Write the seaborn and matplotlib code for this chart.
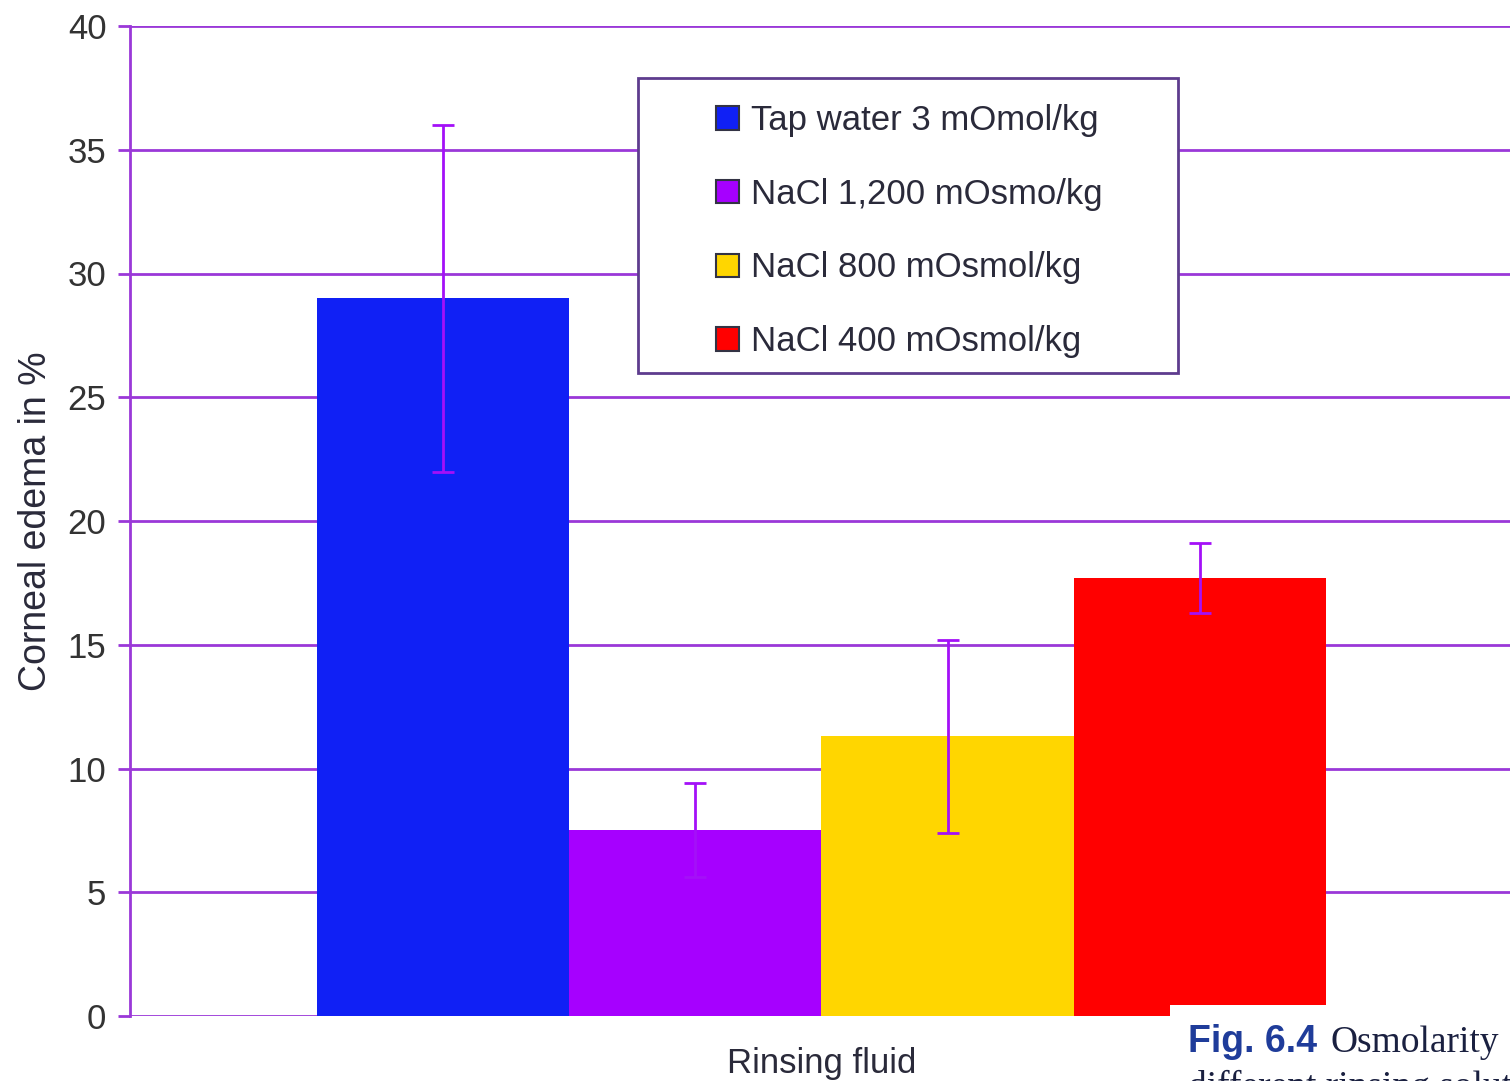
import matplotlib
matplotlib.use("Agg")
import matplotlib.pyplot as plt
from matplotlib.patches import Patch, Rectangle
import pandas as pd
import seaborn as sns

# values (mean, +/- error)
FLUIDS = [
    "Tap water 3 mOmol/kg",
    "NaCl 1,200 mOsmo/kg",
    "NaCl 800 mOsmol/kg",
    "NaCl 400 mOsmol/kg",
]
EDEMA = [29.0, 7.5, 11.3, 17.7]
ERR = [7.0, 1.9, 3.9, 1.4]
COLORS = ["#1020f5", "#a600ff", "#ffd600", "#ff0000"]

GRID = "#9a38d8"
ERRC = "#a410f8"
TXT = "#2a2a3a"

sns.set_style("white")
plt.rcParams["font.family"] = ["Liberation Sans", "DejaVu Sans"]

df = pd.DataFrame({"x": ["Rinsing fluid"] * 4, "fluid": FLUIDS, "edema": EDEMA})

fig = plt.figure(figsize=(15.1, 10.81), dpi=100)
ax = fig.add_axes([130 / 1510, 65 / 1081, 1383 / 1510, 990 / 1081])

sns.barplot(data=df, x="x", y="edema", hue="fluid", hue_order=FLUIDS,
            palette=dict(zip(FLUIDS, COLORS)), width=0.73, saturation=1,
            errorbar=None, legend=False, linewidth=0, ax=ax)

# error bars on top of the bars seaborn placed
for bar, e in zip(ax.patches, ERR):
    cx = bar.get_x() + bar.get_width() / 2
    ax.errorbar(cx, bar.get_height(), yerr=e, fmt="none", ecolor=ERRC,
                elinewidth=2, capsize=8, capthick=2, zorder=4)

ax.set_xlim(-0.5, 0.5)
ax.set_ylim(0, 40)
ax.set_yticks(range(0, 41, 5))
ax.set_axisbelow(True)
ax.yaxis.grid(True, color=GRID, lw=2)
ax.set_xticks([])
ax.set_xlabel("Rinsing fluid", fontsize=25, color=TXT, labelpad=22)
ax.set_ylabel("Corneal edema in %", fontsize=27, color=TXT, labelpad=10)
ax.tick_params(axis="y", labelsize=25, labelcolor="#333333", color=GRID,
               length=9, width=2, pad=8, left=True)
for side in ["top", "right", "bottom"]:
    ax.spines[side].set_visible(False)
ax.spines["left"].set_color(GRID)
ax.spines["left"].set_linewidth(2)

# legend box (white, drawn over the grid)
fig.add_artist(Rectangle((638 / 1510, 1 - 373 / 1081), 540 / 1510, 295 / 1081,
                         transform=fig.transFigure, facecolor="white",
                         edgecolor="#5e3c8e", lw=2, zorder=1))
handles = [Patch(facecolor=c, edgecolor="#333344", lw=1.5) for c in COLORS]
fig.legend(handles, FLUIDS, loc="upper left", bbox_to_anchor=(685 / 1510, 1 - 73 / 1081),
           frameon=False, fontsize=25, handlelength=0.65, handleheight=0.65,
           handletextpad=0.35, labelspacing=1.17, labelcolor=TXT)

# caption corner from the book page
fig.add_artist(Rectangle((1170 / 1510, 0), 0.3, (1081 - 1005) / 1081,
                         transform=fig.transFigure, facecolor="white",
                         edgecolor="none", zorder=2))
fig.text(1188 / 1510, 1 - 1052 / 1081, "Fig. 6.4", fontsize=27, fontweight="bold",
         color="#1f3c9a", va="baseline", zorder=3)
fig.text(1330 / 1510, 1 - 1052 / 1081, "Osmolarity", fontsize=27,
         family=["Liberation Serif", "DejaVu Serif"], color="#1a2040",
         va="baseline", zorder=3)
fig.text(1188 / 1510, 1 - 1097 / 1081, "different rinsing solutions", fontsize=27,
         family=["Liberation Serif", "DejaVu Serif"], color="#1a2040",
         va="baseline", zorder=3)

fig.savefig("out.png", dpi=100, facecolor="white")
